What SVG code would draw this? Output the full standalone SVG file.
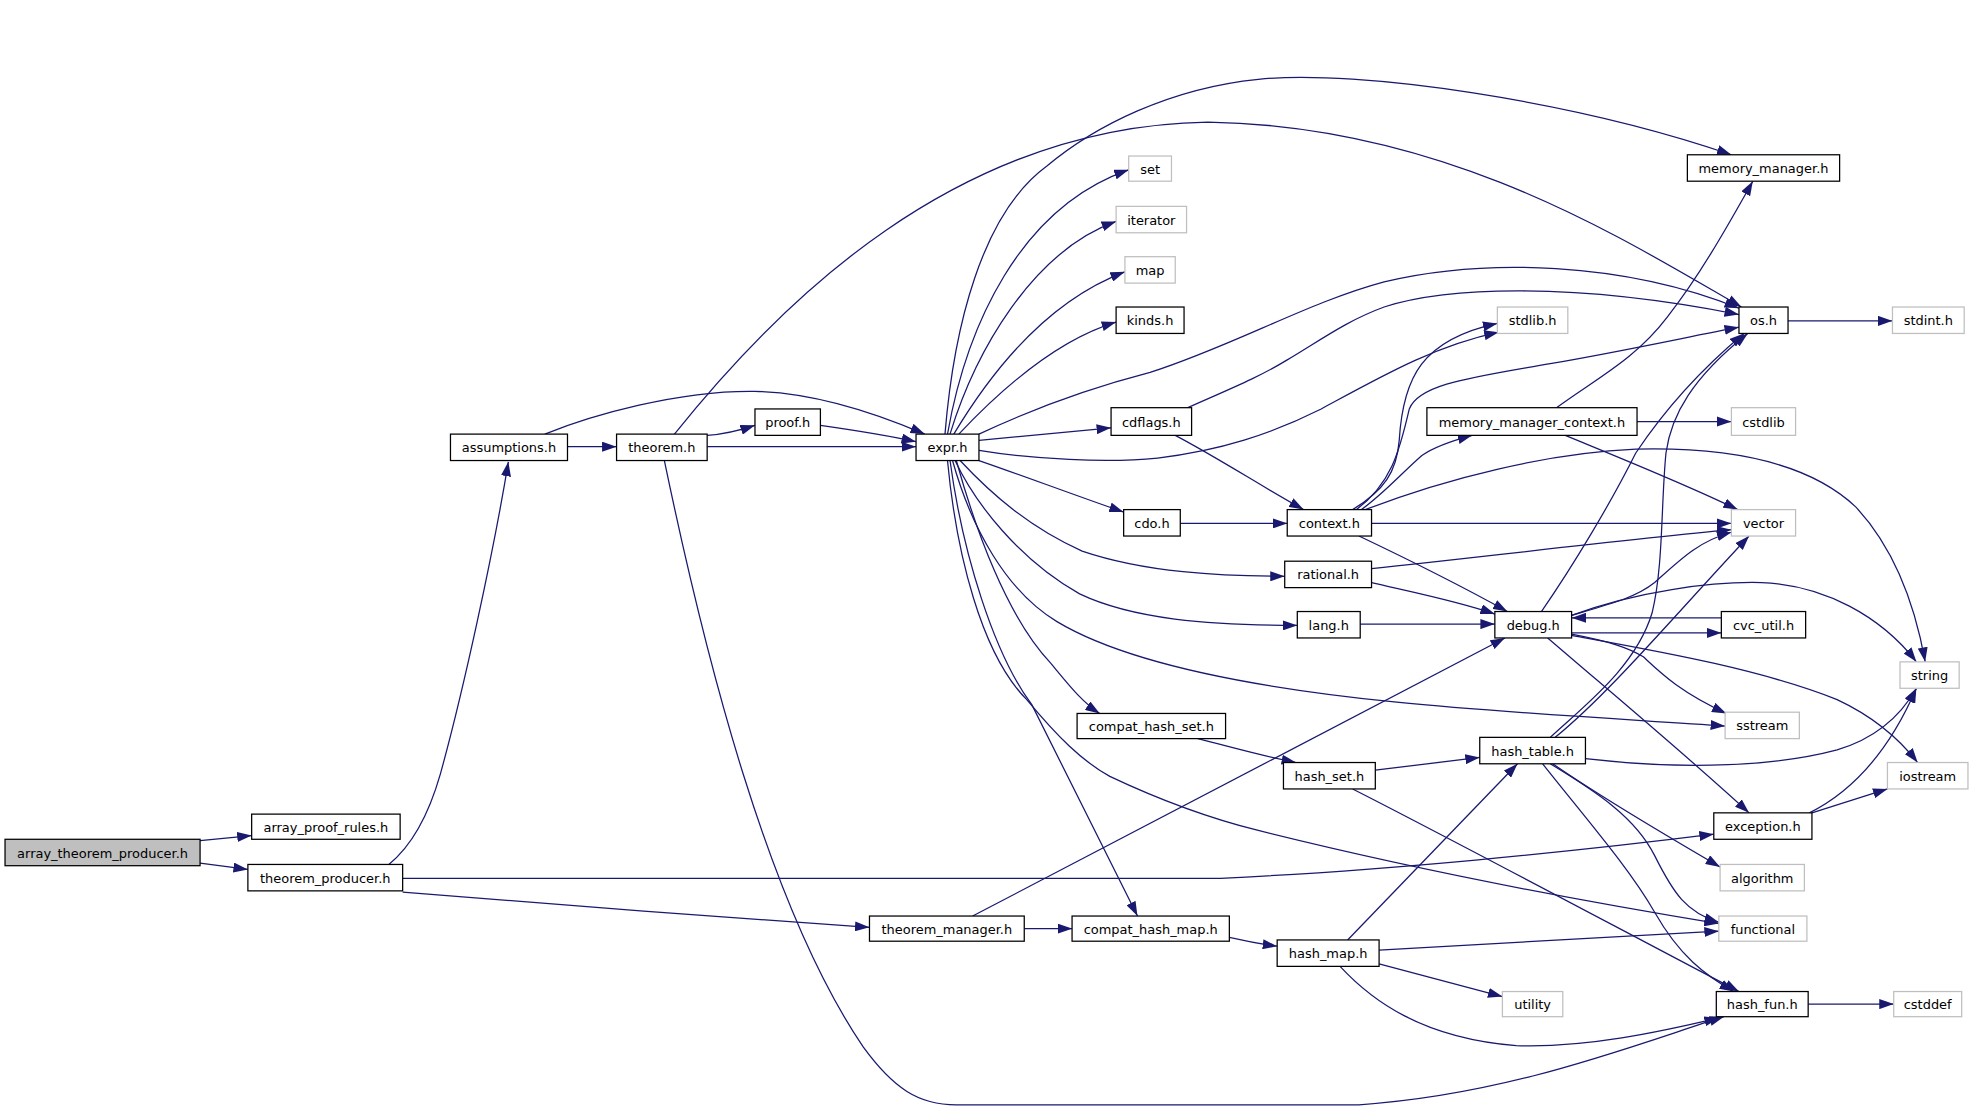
<svg xmlns="http://www.w3.org/2000/svg" width="1973" height="1110" viewBox="0 0 1973 1110">
<defs>
<marker id="arr" markerUnits="userSpaceOnUse" markerWidth="11.5" markerHeight="8" viewBox="0 0 11.5 8" refX="11.5" refY="4" orient="auto">
<path d="M0,0 L11.5,4 L0,8 z" fill="#191970"/>
</marker>
<style>
.e path{fill:none;stroke:#191970;stroke-width:1;marker-end:url(#arr);}
.n rect{fill:#ffffff;stroke:#000000;stroke-width:1;}
.x rect{fill:#ffffff;stroke:#bfbfbf;stroke-width:1;}
.r rect{fill:#bfbfbf;stroke:#000000;stroke-width:1;}
text{font-family:"DejaVu Sans","Liberation Sans",sans-serif;font-size:10.3px;fill:#000000;text-anchor:middle;}
</style>
</defs>
<rect width="1973" height="1110" fill="#ffffff"/>
<g transform="scale(1.258291)">
<g id="connectors" class="e">
<path d="M159,668 L200,664"/>
<path d="M159,686 L197,691"/>
<path d="M309,687 C325,674 340,650 350,615 C368,550 392,440 404,367"/>
<path d="M320,698 L970,698 C1100,692 1250,677 1362,663"/>
<path d="M320,709 C400,716 600,731 691,737"/>
<path d="M451,355 L490,355"/>
<path d="M433,345 C470,330 540,310 600,311 C650,312 700,330 735,345"/>
<path d="M562,346 C575,345 588,342 600,338"/>
<path d="M562,355 L728,355"/>
<path d="M536,345 C620,240 760,100 960,97 C1150,100 1290,190 1384,244"/>
<path d="M528,366 C560,520 610,720 686,832 C710,865 730,878 760,878 L1080,878 C1200,870 1300,830 1370,808"/>
<path d="M652,338 C680,342 710,347 728,351"/>
<path d="M753,345 C768,260 810,165 897,135"/>
<path d="M755,345 C775,280 820,200 887,176"/>
<path d="M758,345 C785,300 830,240 894,216"/>
<path d="M762,345 C795,310 840,270 887,256"/>
<path d="M751,345 C758,260 780,170 832,132 C870,100 930,70 1000,63 C1080,55 1250,80 1376,123"/>
<path d="M778,345 C810,330 860,310 914,296 C980,275 1040,240 1100,224 C1180,205 1290,208 1382,245"/>
<path d="M778,350 L883,340"/>
<path d="M778,358 C820,365 880,368 920,364 C970,358 1010,345 1050,325 C1100,298 1140,275 1191,264"/>
<path d="M778,366 C810,377 850,392 893,407"/>
<path d="M763,366 C790,395 820,420 860,438 C910,455 970,458 1021,458"/>
<path d="M759,366 C775,400 810,445 858,472 C900,492 960,497 1031,497"/>
<path d="M757,366 C772,420 800,470 840,494 C900,530 1010,548 1110,558 C1200,567 1300,572 1371,577"/>
<path d="M760,366 C775,420 800,490 835,527 C850,545 860,558 874,567"/>
<path d="M755,366 C765,440 790,520 820,560 C850,620 880,680 904,728"/>
<path d="M753,366 C760,440 780,520 816,556 C840,585 860,605 882,617 C920,635 960,650 1000,660 C1120,690 1250,715 1366,734"/>
<path d="M934,346 C970,365 1000,385 1036,405"/>
<path d="M944,324 C980,308 1000,300 1023,286 C1050,270 1070,255 1100,244 C1150,228 1250,224 1382,250"/>
<path d="M938,416 L1023,416"/>
<path d="M1075,405 C1100,390 1110,375 1112,350 C1115,300 1130,270 1190,257"/>
<path d="M1078,405 C1105,385 1112,360 1120,325 C1128,305 1170,300 1232,289 C1290,279 1340,268 1382,260"/>
<path d="M1082,405 C1100,392 1115,375 1130,362 C1140,355 1155,350 1170,346"/>
<path d="M1085,405 C1150,380 1230,360 1300,357 C1380,355 1440,370 1475,403 C1500,430 1520,470 1530,526"/>
<path d="M1090,416 L1376,416"/>
<path d="M1080,426 C1120,445 1160,465 1198,486"/>
<path d="M1090,452 C1200,440 1300,428 1376,421"/>
<path d="M1090,463 C1120,470 1160,478 1188,488"/>
<path d="M1081,496 L1188,496"/>
<path d="M952,587 C980,594 1000,600 1030,606"/>
<path d="M1093,612 L1176,602"/>
<path d="M1075,627 C1150,665 1300,745 1382,788"/>
<path d="M814,738 L852,738"/>
<path d="M773,728 L1196,507"/>
<path d="M977,745 C990,748 1000,750 1015,752"/>
<path d="M1071,747 L1206,607"/>
<path d="M1096,755 L1366,740"/>
<path d="M1096,766 L1194,792"/>
<path d="M1065,768 C1090,795 1130,825 1205,831 C1260,833 1320,820 1366,809"/>
<path d="M1232,586 C1260,560 1300,530 1313,487 C1322,450 1320,400 1324,360 C1328,330 1345,300 1389,265"/>
<path d="M1236,586 C1280,550 1330,490 1390,426"/>
<path d="M1225,486 C1250,450 1280,400 1300,360 C1320,330 1350,295 1386,265"/>
<path d="M1249,489 C1280,480 1300,475 1315,463 C1335,445 1350,430 1376,423"/>
<path d="M1249,489 C1300,470 1360,462 1400,463 C1450,465 1495,490 1523,526"/>
<path d="M1368,491 L1249,491"/>
<path d="M1249,503 L1368,503"/>
<path d="M1249,504 C1280,510 1295,515 1306,522 C1320,535 1335,550 1372,567"/>
<path d="M1249,505 C1320,518 1400,532 1460,556 C1490,570 1510,588 1524,606"/>
<path d="M1230,507 C1280,550 1340,600 1390,646"/>
<path d="M1260,603 C1320,610 1400,612 1460,596 C1490,587 1510,570 1523,547"/>
<path d="M1226,607 C1260,650 1295,690 1315,725 C1335,760 1355,775 1378,788"/>
<path d="M1232,607 C1270,630 1300,650 1315,680 C1330,710 1340,725 1366,733"/>
<path d="M1234,607 C1260,625 1300,650 1367,689"/>
<path d="M1438,646 C1470,630 1500,600 1523,547"/>
<path d="M1440,646 L1500,627"/>
<path d="M1237,324 C1270,300 1300,285 1325,252 C1350,220 1370,185 1393,144"/>
<path d="M1301,335 L1376,335"/>
<path d="M1244,346 C1290,365 1340,385 1381,405"/>
<path d="M1421,255 L1504,255"/>
<path d="M1437,798 L1505,798"/>
</g>
<g id="n_atp" class="r"><rect x="4" y="667" width="155" height="21"/><text x="81.5" y="681.5">array_theorem_producer.h</text></g>
<g id="n_apr" class="n"><rect x="200" y="647" width="118" height="20"/><text x="259" y="661">array_proof_rules.h</text></g>
<g id="n_tp" class="n"><rect x="197" y="687" width="123" height="21"/><text x="258.5" y="701.5">theorem_producer.h</text></g>
<g id="n_as" class="n"><rect x="358" y="345" width="93" height="21"/><text x="404.5" y="359.5">assumptions.h</text></g>
<g id="n_th" class="n"><rect x="490" y="345" width="72" height="21"/><text x="526" y="359.5">theorem.h</text></g>
<g id="n_pf" class="n"><rect x="600" y="325" width="52" height="21"/><text x="626" y="339.5">proof.h</text></g>
<g id="n_ex" class="n"><rect x="728" y="345" width="50" height="21"/><text x="753" y="359.5">expr.h</text></g>
<g id="n_set" class="x"><rect x="897" y="124" width="34" height="20"/><text x="914" y="138">set</text></g>
<g id="n_it" class="x"><rect x="887" y="164" width="56" height="21"/><text x="915" y="178.5">iterator</text></g>
<g id="n_map" class="x"><rect x="894" y="204" width="40" height="21"/><text x="914" y="218.5">map</text></g>
<g id="n_kinds" class="n"><rect x="887" y="244" width="54" height="21"/><text x="914" y="258.5">kinds.h</text></g>
<g id="n_cdf" class="n"><rect x="883" y="324" width="64" height="22"/><text x="915" y="339">cdflags.h</text></g>
<g id="n_cdo" class="n"><rect x="893" y="405" width="45" height="21"/><text x="915.5" y="419.5">cdo.h</text></g>
<g id="n_ctx" class="n"><rect x="1023" y="405" width="67" height="21"/><text x="1056.5" y="419.5">context.h</text></g>
<g id="n_rat" class="n"><rect x="1021" y="446" width="69" height="21"/><text x="1055.5" y="460.5">rational.h</text></g>
<g id="n_lang" class="n"><rect x="1031" y="486" width="50" height="21"/><text x="1056" y="500.5">lang.h</text></g>
<g id="n_chs" class="n"><rect x="856" y="567" width="118" height="20"/><text x="915" y="581">compat_hash_set.h</text></g>
<g id="n_hs" class="n"><rect x="1020" y="606" width="73" height="21"/><text x="1056.5" y="620.5">hash_set.h</text></g>
<g id="n_tm" class="n"><rect x="691" y="728" width="123" height="20"/><text x="752.5" y="742">theorem_manager.h</text></g>
<g id="n_chm" class="n"><rect x="852" y="728" width="125" height="20"/><text x="914.5" y="742">compat_hash_map.h</text></g>
<g id="n_hm" class="n"><rect x="1015" y="747" width="81" height="21"/><text x="1055.5" y="761.5">hash_map.h</text></g>
<g id="n_mm" class="n"><rect x="1341" y="123" width="121" height="21"/><text x="1401.5" y="137.5">memory_manager.h</text></g>
<g id="n_os" class="n"><rect x="1382" y="244" width="39" height="21"/><text x="1401.5" y="258.5">os.h</text></g>
<g id="n_stdint" class="x"><rect x="1504" y="244" width="57" height="21"/><text x="1532.5" y="258.5">stdint.h</text></g>
<g id="n_stdlib" class="x"><rect x="1190" y="244" width="56" height="21"/><text x="1218" y="258.5">stdlib.h</text></g>
<g id="n_mmc" class="n"><rect x="1134" y="324" width="167" height="22"/><text x="1217.5" y="339">memory_manager_context.h</text></g>
<g id="n_cstdlib" class="x"><rect x="1376" y="324" width="51" height="22"/><text x="1401.5" y="339">cstdlib</text></g>
<g id="n_vec" class="x"><rect x="1376" y="405" width="51" height="21"/><text x="1401.5" y="419.5">vector</text></g>
<g id="n_dbg" class="n"><rect x="1188" y="486" width="61" height="21"/><text x="1218.5" y="500.5">debug.h</text></g>
<g id="n_cvc" class="n"><rect x="1368" y="486" width="67" height="21"/><text x="1401.5" y="500.5">cvc_util.h</text></g>
<g id="n_str" class="x"><rect x="1510" y="526" width="47" height="21"/><text x="1533.5" y="540.5">string</text></g>
<g id="n_ss" class="x"><rect x="1371" y="566" width="59" height="21"/><text x="1400.5" y="580.5">sstream</text></g>
<g id="n_ios" class="x"><rect x="1500" y="606" width="64" height="21"/><text x="1532" y="620.5">iostream</text></g>
<g id="n_ht" class="n"><rect x="1176" y="586" width="84" height="21"/><text x="1218" y="600.5">hash_table.h</text></g>
<g id="n_exc" class="n"><rect x="1362" y="646" width="78" height="21"/><text x="1401" y="660.5">exception.h</text></g>
<g id="n_alg" class="x"><rect x="1367" y="687" width="67" height="21"/><text x="1400.5" y="701.5">algorithm</text></g>
<g id="n_fun" class="x"><rect x="1366" y="728" width="70" height="20"/><text x="1401" y="742">functional</text></g>
<g id="n_util" class="x"><rect x="1194" y="788" width="48" height="20"/><text x="1218" y="802">utility</text></g>
<g id="n_hf" class="n"><rect x="1364" y="788" width="73" height="20"/><text x="1400.5" y="802">hash_fun.h</text></g>
<g id="n_cstddef" class="x"><rect x="1505" y="788" width="54" height="20"/><text x="1532" y="802">cstddef</text></g>
</g>
</svg>
